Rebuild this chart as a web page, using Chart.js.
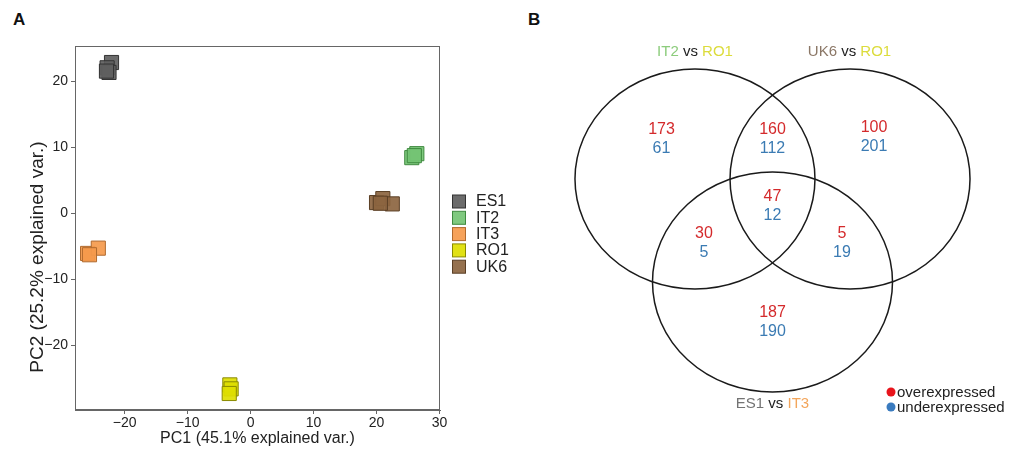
<!DOCTYPE html>
<html>
<head>
<meta charset="utf-8">
<script src="https://cdn.jsdelivr.net/npm/chart.js@4.4.1/dist/chart.umd.min.js"></script>
<style>
  body { margin: 0; background: #fff; width: 1016px; height: 452px; overflow: hidden; position: relative; font-family: 'Liberation Sans', Arial, sans-serif; }
  canvas { position: absolute; top: 0; }
  #pca { left: 0; }
  #venn { left: 520px; }
  .panel { position: absolute; font-weight: bold; font-size: 17px; line-height: 17px; color: #111; }
</style>
</head>
<body>
<div class="panel" style="left:13px;top:11px">A</div>
<div class="panel" style="left:528px;top:11px">B</div>
<canvas id="pca" width="520" height="452"></canvas>
<canvas id="venn" width="496" height="452"></canvas>
<script>
// PCA scores per sample group
const groups = ['ES1', 'IT2', 'IT3', 'RO1', 'UK6'];
const es1PC1 = [-22.1, -22.8, -22.5, -22.9];
const es1PC2 = [22.8, 22.0, 21.3, 21.5];
const it2PC1 = [25.6, 26.4, 26.0];
const it2PC2 = [8.4, 9.0, 8.7];
const it3PC1 = [-25.9, -24.2, -25.6];
const it3PC2 = [-6.1, -5.3, -6.3];
const ro1PC1 = [-3.3, -3.1, -3.4];
const ro1PC2 = [-26.0, -26.6, -27.3];
const uk6PC1 = [20.0, 21.0, 22.5, 20.6];
const uk6PC2 = [1.6, 2.2, 1.4, 1.5];
const pcTicks = [-20, -10, 0, 10, 20, 30];

// Venn: differentially expressed genes per region
const vennSetA = ['IT2', 'UK6', 'ES1'];
const vennSetB = ['RO1', 'RO1', 'IT3'];
const circleX = [-0.646, 0.646, 0];
const circleY = [0.936, 0.936, 0];
const regionX = [-0.925, 0, 0.846, 0, -0.571, 0.579, 0];
const regionY = [1.295, 1.295, 1.314, 0.686, 0.355, 0.355, -0.364];
const overexpressed = [173, 160, 100, 47, 30, 5, 187];
const underexpressed = [61, 112, 201, 12, 5, 19, 190];
const titleX = [-0.646, 0.642, 0];
const titleY = [2.09, 2.09, -1.109];

const fillColors = { ES1: 'rgba(96,96,96,0.92)', IT2: 'rgba(116,196,116,0.92)', IT3: 'rgba(245,154,76,0.92)', RO1: 'rgba(222,222,0,0.92)', UK6: 'rgba(140,101,64,0.92)' };
const edgeColors = { ES1: '#333333', IT2: '#3f8a3f', IT3: '#b06a2e', RO1: '#8a8a00', UK6: '#5a3f25' };
const textColors = { ES1: '#737373', IT2: '#8ccc7c', IT3: '#f3a65c', RO1: '#dcdc3c', UK6: '#8b7766' };

Chart.defaults.font.family = "'Liberation Sans', Arial, sans-serif";
Chart.defaults.color = '#222';

const pcData = [[es1PC1, es1PC2], [it2PC1, it2PC2], [it3PC1, it3PC2], [ro1PC1, ro1PC2], [uk6PC1, uk6PC2]];
const minus = v => String(v).replace('-', '\u2212');

const frameAndLegend = {
  id: 'frameAndLegend',
  afterDraw(chart) {
    const { ctx, chartArea: ca } = chart;
    ctx.save();
    ctx.strokeStyle = '#666';
    ctx.lineWidth = 1;
    ctx.strokeRect(ca.left + 0.5, ca.top + 0.5, ca.right - ca.left - 1, ca.bottom - ca.top - 1);
    // y axis title, sits a little below the panel centre in the original
    ctx.save();
    ctx.translate(38, 257);
    ctx.rotate(-Math.PI / 2);
    ctx.font = "19px 'Liberation Sans', Arial, sans-serif";
    ctx.textAlign = 'center';
    ctx.textBaseline = 'middle';
    ctx.fillStyle = '#222';
    ctx.fillText('PC2 (25.2% explained var.)', 0, 0);
    ctx.restore();
    ctx.font = "16px 'Liberation Sans', Arial, sans-serif";
    ctx.textBaseline = 'middle';
    groups.forEach((g, i) => {
      const y = 201.5 + i * 16.3;
      ctx.fillStyle = fillColors[g];
      ctx.fillRect(ca.right + 12.5, y - 6.5, 13, 13);
      ctx.strokeStyle = edgeColors[g];
      ctx.strokeRect(ca.right + 12.5, y - 6.5, 13, 13);
      ctx.fillStyle = '#222';
      ctx.fillText(g, ca.right + 36, y + 0.5);
    });
    ctx.restore();
  }
};

new Chart(document.getElementById('pca'), {
  type: 'scatter',
  data: {
    datasets: groups.map((g, i) => ({
      label: g,
      data: pcData[i][0].map((x, j) => ({ x, y: pcData[i][1][j] })),
      pointStyle: 'rect',
      pointRadius: 10,
      backgroundColor: fillColors[g],
      borderColor: edgeColors[g],
      borderWidth: 1
    }))
  },
  options: {
    responsive: false,
    animation: false,
    layout: { padding: { left: 0, top: 46, right: 80, bottom: 0 } },
    plugins: { legend: { display: false }, tooltip: { enabled: false } },
    scales: {
      x: {
        min: -27.9, max: 30.08,
        afterFit: s => { s.height = 42; },
        afterBuildTicks: s => { s.ticks = pcTicks.map(v => ({ value: v })); },
        ticks: { font: { size: 14 }, color: '#222', padding: 1, callback: minus },
        grid: { drawOnChartArea: false, tickLength: 4, color: '#666' },
        border: { color: '#666' },
        title: { display: true, text: 'PC1 (45.1% explained var.)', font: { size: 16 }, color: '#222', padding: { top: 0, bottom: 4 } }
      },
      y: {
        min: -29.8, max: 25.3,
        afterFit: s => { s.width = 75; },
        afterBuildTicks: s => { s.ticks = pcTicks.slice(0, 5).map(v => ({ value: v })); },
        ticks: { font: { size: 14 }, color: '#222', padding: 3, callback: minus },
        grid: { drawOnChartArea: false, tickLength: 4, color: '#666' },
        border: { color: '#666' },
        title: { display: false }
      }
    }
  },
  plugins: [frameAndLegend]
});

const vennPlugin = {
  id: 'vennPlugin',
  beforeDatasetsDraw(chart) {
    const { ctx, scales: { x, y } } = chart;
    ctx.save();
    ctx.strokeStyle = '#1a1a1a';
    ctx.lineWidth = 1.5;
    circleX.forEach((cx, i) => {
      const px = x.getPixelForValue(cx), py = y.getPixelForValue(circleY[i]);
      const rx = Math.abs(x.getPixelForValue(cx + 1) - px);
      const ry = Math.abs(y.getPixelForValue(circleY[i] + 1) - py);
      ctx.beginPath();
      ctx.ellipse(px, py, rx, ry, 0, 0, Math.PI * 2);
      ctx.stroke();
    });
    ctx.restore();
  },
  afterDatasetsDraw(chart) {
    const { ctx, chartArea: ca, scales: { x, y } } = chart;
    const meta = chart.getDatasetMeta(0);
    ctx.save();
    ctx.textAlign = 'center';
    ctx.textBaseline = 'middle';
    ctx.font = "16px 'Liberation Sans', Arial, sans-serif";
    meta.data.forEach((pt, i) => {
      ctx.fillStyle = '#d42a2c';
      ctx.fillText(String(overexpressed[i]), pt.x, pt.y - 9.5);
      ctx.fillStyle = '#3b7bb3';
      ctx.fillText(String(underexpressed[i]), pt.x, pt.y + 9.5);
    });
    // set titles, e.g. "IT2 vs RO1"
    ctx.font = "15px 'Liberation Sans', Arial, sans-serif";
    ctx.textAlign = 'left';
    vennSetA.forEach((a, i) => {
      const parts = [[a, textColors[a]], [' vs ', '#222'], [vennSetB[i], textColors[vennSetB[i]]]];
      const total = parts.reduce((w, p) => w + ctx.measureText(p[0]).width, 0);
      let px = x.getPixelForValue(titleX[i]) - total / 2;
      const py = y.getPixelForValue(titleY[i]);
      parts.forEach(p => {
        ctx.fillStyle = p[1];
        ctx.fillText(p[0], px, py);
        px += ctx.measureText(p[0]).width;
      });
    });
    // legend
    const items = [['overexpressed', '#e8141c'], ['underexpressed', '#3a7bbf']];
    items.forEach((it, i) => {
      const ly = 392 + i * 15;
      ctx.fillStyle = it[1];
      ctx.beginPath();
      ctx.arc(ca.right - 125, ly, 4.5, 0, Math.PI * 2);
      ctx.fill();
      ctx.fillStyle = '#222';
      ctx.fillText(it[0], ca.right - 119, ly + 0.5);
    });
    ctx.restore();
  }
};

new Chart(document.getElementById('venn'), {
  type: 'scatter',
  data: { datasets: [{ label: 'regions', data: regionX.map((rx, i) => ({ x: rx, y: regionY[i] })), pointRadius: 0 }] },
  options: {
    responsive: false,
    animation: false,
    layout: { padding: 0 },
    plugins: { legend: { display: false }, tooltip: { enabled: false } },
    scales: {
      x: { type: 'linear', display: false, min: -2.1042, max: 2.0292 },
      y: { type: 'linear', display: false, min: -1.5455, max: 2.5636 }
    }
  },
  plugins: [vennPlugin]
});
</script>
</body>
</html>
